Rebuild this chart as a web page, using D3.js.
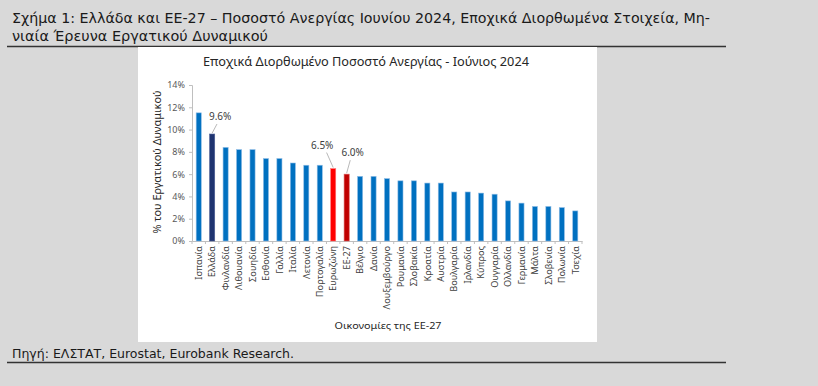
<!DOCTYPE html>
<html lang="el">
<head>
<meta charset="UTF-8">
<title>Ποσοστό Ανεργίας Ιουνίου 2024</title>
<script src="https://d3js.org/d3.v7.min.js"></script>
<style>
  body { margin: 0; background: #d9d9d9; }
  svg { display: block; }
  .hdr { font-family: "DejaVu Sans Condensed", "DejaVu Sans", sans-serif; fill: #1a1a1a; }
  .chart text { font-family: "Noto Sans", "Lato", sans-serif; }
</style>
</head>
<body>
<svg width="818" height="386"></svg>
<script>
// data
const countries = ["Ισπανία", "Ελλάδα", "Φινλανδία", "Λιθουανία", "Σουηδία", "Εσθονία", "Γαλλία", "Ιταλία",
  "Λετονία", "Πορτογαλία", "Ευρωζώνη", "ΕΕ-27", "Βέλγιο", "Δανία", "Λουξεμβούργο", "Ρουμανία",
  "Σλοβακία", "Κροατία", "Αυστρία", "Βουλγαρία", "Ιρλανδία", "Κύπρος", "Ουγγαρία", "Ολλανδία",
  "Γερμανία", "Μάλτα", "Σλοβενία", "Πολωνία", "Τσεχία"];
const rates = [11.5, 9.6, 8.4, 8.2, 8.2, 7.4, 7.4, 7.0, 6.8, 6.8, 6.5, 6.0, 5.8, 5.8, 5.6, 5.4,
  5.4, 5.2, 5.2, 4.4, 4.4, 4.3, 4.2, 3.6, 3.4, 3.1, 3.1, 3.0, 2.7];
const yTicks = [0, 2, 4, 6, 8, 10, 12, 14];
const labelled = ["Ελλάδα", "Ευρωζώνη", "ΕΕ-27"];

const svg = d3.select("svg");

// header and footer
svg.append("text").attr("class", "hdr").attr("x", 12).attr("y", 23)
  .attr("font-size", 14).attr("textLength", 698).attr("lengthAdjust", "spacingAndGlyphs")
  .text("Σχήμα 1: Ελλάδα και ΕΕ-27 – Ποσοστό Ανεργίας Ιουνίου 2024, Εποχικά Διορθωμένα Στοιχεία, Μη-");
svg.append("text").attr("class", "hdr").attr("x", 12).attr("y", 41)
  .attr("font-size", 14).attr("textLength", 256).attr("lengthAdjust", "spacingAndGlyphs")
  .text("νιαία Έρευνα Εργατικού Δυναμικού");
svg.append("line").attr("x1", 7).attr("x2", 726).attr("y1", 46.5).attr("y2", 46.5)
  .attr("stroke", "#333").attr("stroke-width", 1.5);

// white panel
svg.append("rect").attr("x", 138).attr("y", 47).attr("width", 459).attr("height", 295).attr("fill", "#fff");

svg.append("text").attr("class", "hdr").attr("x", 12).attr("y", 358)
  .attr("font-size", 13).attr("textLength", 282).attr("lengthAdjust", "spacingAndGlyphs")
  .text("Πηγή: ΕΛΣΤΑΤ, Eurostat, Eurobank Research.");
svg.append("line").attr("x1", 7).attr("x2", 726).attr("y1", 362.5).attr("y2", 362.5)
  .attr("stroke", "#333").attr("stroke-width", 1.5);

const g = svg.append("g").attr("class", "chart");

// scales
const x = d3.scaleBand().domain(countries).range([192, 582]).paddingInner(0.62).paddingOuter(0.31);
const y = d3.scaleLinear().domain([0, 14]).range([241, 85]);

// chart title
g.append("text").attr("x", 366).attr("y", 66).attr("text-anchor", "middle")
  .attr("font-size", 12.5).attr("fill", "#262626")
  .attr("textLength", 326).attr("lengthAdjust", "spacingAndGlyphs")
  .text("Εποχικά Διορθωμένο Ποσοστό Ανεργίας - Ιούνιος 2024");

// y axis
const yAxis = g.append("g").attr("transform", "translate(192,0)")
  .call(d3.axisLeft(y).tickValues(yTicks).tickSize(3).tickPadding(4).tickFormat(d => d + "%"));
yAxis.select(".domain").attr("stroke", "#bfbfbf");
yAxis.selectAll(".tick line").attr("stroke", "#bfbfbf");
yAxis.selectAll("text").attr("font-size", 9).attr("fill", "#595959");

// x axis, ticks at band boundaries
const xAxis = g.append("g").attr("transform", "translate(0,241)")
  .call(d3.axisBottom(x).tickSize(0).tickPadding(5));
xAxis.select(".domain").attr("stroke", "#bfbfbf");
xAxis.selectAll("text").attr("font-size", 9.2).attr("fill", "#404040")
  .attr("transform", "rotate(-90)").attr("text-anchor", "end")
  .attr("x", -5).attr("y", 0).attr("dy", "0.35em");
const bounds = countries.map(c => x(c) - x.step() * x.paddingInner() / 2).concat([582]);
xAxis.selectAll(".bnd").data(bounds).join("line").attr("class", "bnd")
  .attr("x1", d => d).attr("x2", d => d).attr("y1", 0).attr("y2", 3)
  .attr("stroke", "#bfbfbf");

// bars
const colour = c => c === "Ελλάδα" ? "#1f3470" : c === "Ευρωζώνη" ? "#ff0000" : c === "ΕΕ-27" ? "#c00000" : "#0070c0";
const edge = c => c === "Ελλάδα" ? "#4a5d95" : c === "Ευρωζώνη" ? "#ff7a7a" : c === "ΕΕ-27" ? "#d96060" : "#8fbde6";
g.selectAll(".bar").data(countries).join("rect").attr("class", "bar")
  .attr("x", c => x(c)).attr("width", x.bandwidth())
  .attr("y", (c, i) => y(rates[i])).attr("height", (c, i) => y(0) - y(rates[i]))
  .attr("fill", colour).attr("stroke", edge).attr("stroke-width", 0.6);

// value labels with leader lines
const offs = { "Ελλάδα": [8, -16], "Ευρωζώνη": [-11, -22], "ΕΕ-27": [6, -20] };
labelled.forEach(c => {
  const i = countries.indexOf(c);
  const cx = x(c) + x.bandwidth() / 2, cy = y(rates[i]);
  const [dx, dy] = offs[c];
  g.append("line").attr("x1", cx).attr("y1", cy - 1).attr("x2", cx + dx * 0.6).attr("y2", cy + dy + 6)
    .attr("stroke", "#a6a6a6").attr("stroke-width", 0.8);
  g.append("text").attr("x", cx + dx).attr("y", cy + dy + 2).attr("text-anchor", "middle")
    .attr("font-size", 10).attr("fill", "#404040").text(rates[i].toFixed(1) + "%");
});

// axis titles
g.append("text").attr("transform", "translate(161,162) rotate(-90)").attr("text-anchor", "middle")
  .attr("font-size", 10.5).attr("fill", "#262626")
  .attr("textLength", 143).attr("lengthAdjust", "spacingAndGlyphs")
  .text("% του Εργατικού Δυναμικού");
g.append("text").attr("x", 388).attr("y", 329).attr("text-anchor", "middle")
  .attr("font-size", 9.5).attr("fill", "#262626")
  .attr("textLength", 107).attr("lengthAdjust", "spacingAndGlyphs")
  .text("Οικονομίες της ΕΕ-27");
</script>
</body>
</html>
